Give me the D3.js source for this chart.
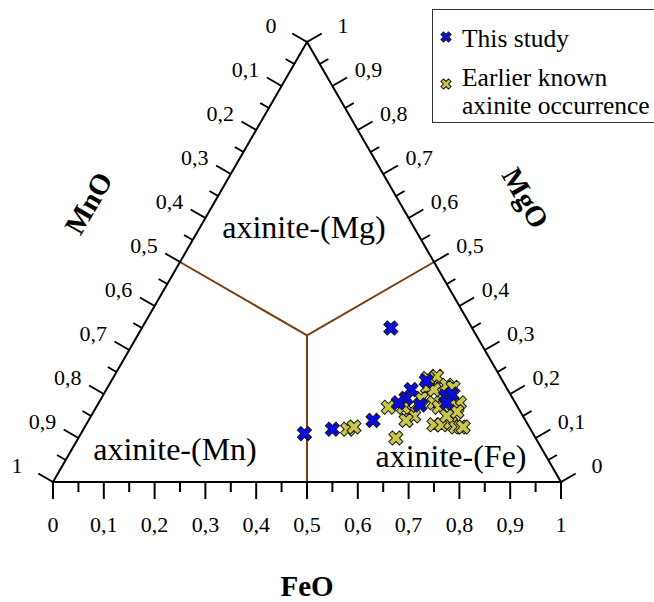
<!DOCTYPE html>
<html>
<head>
<meta charset="utf-8">
<script src="https://cdn.jsdelivr.net/npm/d3@7"></script>
<style>
body { margin: 0; background: #fff; }
text { font-family: "Liberation Serif", "Times New Roman", serif; fill: #000; }
</style>
</head>
<body>
<div id="chart"></div>
<script>
// This study (FeO, MgO, MnO fractions)
var studyFeO = [0.49, 0.44, 0.49, 0.56, 0.62, 0.60, 0.60, 0.59, 0.635, 0.675, 0.685, 0.685];
var studyMgO = [0.35, 0.11, 0.12, 0.14, 0.23, 0.21, 0.19, 0.18, 0.175, 0.195, 0.20, 0.18];
var studyMnO = [0.16, 0.45, 0.39, 0.30, 0.15, 0.19, 0.21, 0.23, 0.19, 0.13, 0.115, 0.135];

// Earlier known axinite occurrences
var earlierFeO = [0.52, 0.53, 0.575, 0.625, 0.63, 0.635, 0.63, 0.665, 0.68, 0.625, 0.635, 0.625, 0.66, 0.675,
                  0.685, 0.70, 0.715, 0.71, 0.71, 0.73, 0.74, 0.745, 0.695, 0.715, 0.70, 0.645, 0.63, 0.605, 0.62];
var earlierMgO = [0.12, 0.125, 0.17, 0.10, 0.23, 0.24, 0.215, 0.22, 0.215, 0.16, 0.15, 0.14, 0.18, 0.17,
                  0.13, 0.13, 0.135, 0.17, 0.18, 0.125, 0.125, 0.125, 0.18, 0.16, 0.15, 0.21, 0.19, 0.17, 0.235];
var earlierMnO = [0.36, 0.345, 0.255, 0.275, 0.14, 0.125, 0.155, 0.115, 0.105, 0.215, 0.215, 0.235, 0.16, 0.155,
                  0.185, 0.17, 0.15, 0.12, 0.11, 0.145, 0.135, 0.13, 0.125, 0.125, 0.15, 0.145, 0.18, 0.225, 0.145];

// field boundaries: centre to edge midpoints [FeO, MgO]
var boundaryFrom = [[1/3, 1/3], [1/3, 1/3], [1/3, 1/3]];
var boundaryTo = [[0.5, 0], [0, 0.5], [0.5, 0.5]];

var tickValues = d3.range(0, 21).map(function(i) { return i / 20; });
var fieldNames = ["axinite-(Mg)", "axinite-(Mn)", "axinite-(Fe)"];
var legendNames = ["This study", "Earlier known", "axinite occurrence"];

var w = 654, h = 602;
var blue = "#0a0ae6", yellow = "#c9c84a", brown = "#7a3e0c";

var xScale = d3.scaleLinear().domain([0, 1]).range([53, 561]);
var yScale = d3.scaleLinear().domain([0, 1]).range([482, 42]);

// ternary -> screen
function px(f, g) { return xScale(f + g / 2); }
function py(f, g) { return yScale(g); }

var svg = d3.select("#chart").append("svg")
  .attr("width", w)
  .attr("height", h);

// boundaries between the fields
boundaryFrom.forEach(function(a, i) {
  var b = boundaryTo[i];
  svg.append("line")
    .attr("x1", px(a[0], a[1])).attr("y1", py(a[0], a[1]))
    .attr("x2", px(b[0], b[1])).attr("y2", py(b[0], b[1]))
    .attr("stroke", brown)
    .attr("stroke-width", 2);
});

// triangle
var corners = [[0, 0], [1, 0], [0, 1]];
svg.append("path")
  .attr("d", d3.line()
    .x(function(d) { return px(d[0], d[1]); })
    .y(function(d) { return py(d[0], d[1]); })(corners) + "Z")
  .attr("fill", "none")
  .attr("stroke", "#000")
  .attr("stroke-width", 2)
  .attr("stroke-linejoin", "miter");

function label(v) {
  if (v === 0) return "0";
  if (v === 1) return "1";
  return d3.format(".1f")(v).replace(".", ",");
}

// three axes: position on edge, outward tick direction, label offset
var axes = [
  { // FeO, bottom
    pos: function(t) { return [px(t, 0), py(t, 0)]; },
    dir: [0, 1], lab: [0, 50]
  },
  { // MnO, left: 0 at apex, 1 at bottom left
    pos: function(t) { return [px(0, 1 - t), py(0, 1 - t)]; },
    dir: [-0.866, -0.5], lab: [-36, -9]
  },
  { // MgO, right: 0 at bottom right, 1 at apex
    pos: function(t) { return [px(1 - t, t), py(1 - t, t)]; },
    dir: [0.866, -0.5], lab: [36, -9]
  }
];

axes.forEach(function(ax) {
  var g = svg.append("g");
  tickValues.forEach(function(t, i) {
    var p = ax.pos(t);
    var len = i % 2 === 0 ? 17 : 10;
    g.append("line")
      .attr("x1", p[0]).attr("y1", p[1])
      .attr("x2", p[0] + ax.dir[0] * len).attr("y2", p[1] + ax.dir[1] * len)
      .attr("stroke", "#000")
      .attr("stroke-width", 2);
    if (i % 2 === 0) {
      g.append("text")
        .attr("x", p[0] + ax.lab[0])
        .attr("y", p[1] + ax.lab[1])
        .attr("text-anchor", "middle")
        .style("font-size", "22px")
        .text(label(t));
    }
  });
});

// axis titles
svg.append("text")
  .attr("x", 307).attr("y", 596)
  .attr("text-anchor", "middle")
  .style("font-size", "29px").style("font-weight", "bold")
  .text("FeO");
svg.append("text")
  .attr("transform", "translate(97,208) rotate(-60)")
  .attr("text-anchor", "middle")
  .style("font-size", "29px").style("font-weight", "bold")
  .text("MnO");
svg.append("text")
  .attr("transform", "translate(517,203) rotate(60)")
  .attr("text-anchor", "middle")
  .style("font-size", "29px").style("font-weight", "bold")
  .text("MgO");

// field names
var fieldPos = [[304, 238], [175, 460], [451, 467]];
fieldNames.forEach(function(n, i) {
  svg.append("text")
    .attr("x", fieldPos[i][0]).attr("y", fieldPos[i][1])
    .attr("text-anchor", "middle")
    .style("font-size", "32px")
    .text(n);
});

// markers
var cross = d3.symbol().type(d3.symbolCross).size(125);

function plot(feo, mgo, color) {
  svg.append("g").selectAll("path")
    .data(feo)
    .enter()
    .append("path")
    .attr("d", cross)
    .attr("transform", function(d, i) {
      return "translate(" + px(d, mgo[i]) + "," + py(d, mgo[i]) + ") rotate(45)";
    })
    .attr("fill", color)
    .attr("stroke", "#1a1a1a")
    .attr("stroke-width", 1);
}
plot(earlierFeO, earlierMgO, yellow);
plot(studyFeO, studyMgO, blue);

// legend
var legend = svg.append("g");
legend.append("rect")
  .attr("x", 432.5).attr("y", 9.5)
  .attr("width", 240).attr("height", 113)
  .attr("fill", "#fff")
  .attr("stroke", "#333")
  .attr("stroke-width", 1);
var small = d3.symbol().type(d3.symbolCross).size(65);
legend.append("path").attr("d", small)
  .attr("transform", "translate(446,37) rotate(45)")
  .attr("fill", blue).attr("stroke", "#1a1a1a").attr("stroke-width", 1);
legend.append("path").attr("d", small)
  .attr("transform", "translate(446,84) rotate(45)")
  .attr("fill", yellow).attr("stroke", "#1a1a1a").attr("stroke-width", 1);
var legendY = [47, 86, 114];
legendNames.forEach(function(n, i) {
  legend.append("text")
    .attr("x", 462).attr("y", legendY[i])
    .style("font-size", "25.5px")
    .text(n);
});
</script>
</body>
</html>
